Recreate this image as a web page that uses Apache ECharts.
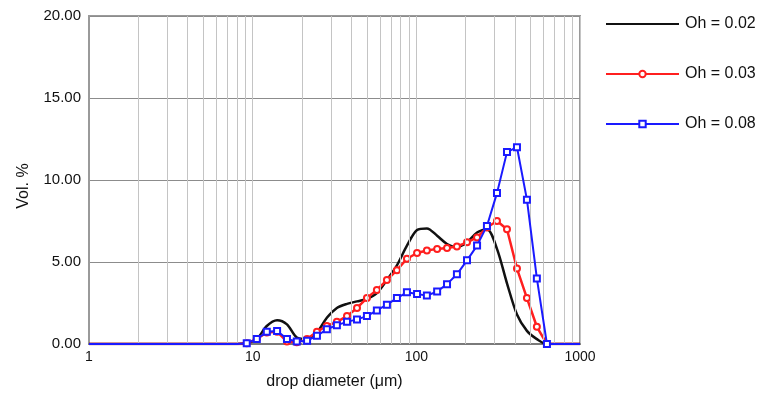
<!DOCTYPE html>
<html>
<head>
<meta charset="utf-8">
<script src="https://cdn.jsdelivr.net/npm/echarts@6/dist/echarts.min.js"></script>
<style>
  html, body { margin: 0; padding: 0; background: #fff; }
  #chart { width: 775px; height: 399px; }
</style>
</head>
<body>
<div id="chart"></div>
<script>
// drop diameter bins (um)
const diameters = [8.0, 9.2, 10.6, 12.2, 14.1, 16.2, 18.6, 21.5, 24.7, 28.4, 32.7, 37.7,
  43.4, 49.9, 57.4, 66.1, 76.1, 87.6, 101, 116, 134, 154, 177, 204, 235, 270, 311,
  358, 412, 474, 545, 628];

const oh002 = [0, 0.05, 0.3, 1.1, 1.45, 1.2, 0.4, 0.3, 0.7, 1.6, 2.2, 2.45, 2.6, 2.75,
  3.1, 3.9, 4.8, 6.0, 6.95, 7.05, 6.6, 6.1, 5.9, 6.2, 6.8, 7.0, 5.8, 3.7, 1.8, 0.8, 0.3, 0];
const oh003 = [0, 0.05, 0.3, 0.7, 0.75, 0.15, 0.1, 0.3, 0.75, 1.1, 1.35, 1.7, 2.2, 2.8,
  3.3, 3.9, 4.5, 5.2, 5.55, 5.7, 5.8, 5.85, 5.95, 6.2, 6.5, 7.1, 7.5, 7.0, 4.6, 2.8, 1.05, 0];
const oh008 = [0, 0.05, 0.3, 0.75, 0.8, 0.3, 0.15, 0.2, 0.5, 0.9, 1.15, 1.35, 1.5, 1.7,
  2.05, 2.4, 2.8, 3.15, 3.05, 2.95, 3.2, 3.65, 4.25, 5.1, 6.0, 7.2, 9.2, 11.7, 12.0, 8.8, 4.0, 0];

const seriesNames = ['Oh = 0.02', 'Oh = 0.03', 'Oh = 0.08'];
const yTicks = [0, 5, 10, 15, 20];
const xTicks = [1, 10, 100, 1000];
const minorGrid = [2, 3, 4, 5, 6, 7, 8, 9, 20, 30, 40, 50, 60, 70, 80, 90,
  200, 300, 400, 500, 600, 700, 800, 900];

function toPoints(vals, withSymbols) {
  const pts = [{ value: [xTicks[0], 0], symbol: 'none' }];
  diameters.forEach((d, i) => {
    const p = { value: [d, vals[i]] };
    if (!withSymbols || i === 0) p.symbol = 'none';
    pts.push(p);
  });
  pts.push({ value: [xTicks[xTicks.length - 1], 0], symbol: 'none' });
  return pts;
}

const chart = echarts.init(document.getElementById('chart'));
const font = 'Liberation Sans, Arial, sans-serif';

chart.setOption({
  animation: false,
  grid: {
    left: 89, right: 195, top: 16, bottom: 55,
    show: true, borderColor: '#9a9a9a', borderWidth: 2, backgroundColor: 'transparent'
  },
  legend: {
    orient: 'vertical',
    left: 600, top: 11,
    itemWidth: 73, itemHeight: 8, itemGap: 34,
    data: [
      { name: seriesNames[0], itemStyle: { opacity: 0 } },
      { name: seriesNames[1] },
      { name: seriesNames[2] }
    ],
    textStyle: { fontFamily: font, fontSize: 16, color: '#111', padding: [0, 0, 0, 1] }
  },
  xAxis: {
    type: 'log', logBase: 10, min: xTicks[0], max: xTicks[xTicks.length - 1],
    name: 'drop diameter (μm)', nameLocation: 'middle', nameGap: 30,
    nameTextStyle: { fontFamily: font, fontSize: 16, color: '#111' },
    axisLine: { show: true, lineStyle: { color: '#7a7a7a', width: 2 } },
    axisTick: { show: false },
    axisLabel: { fontFamily: font, fontSize: 14, color: '#111', margin: 6, formatter: v => String(v) },
    splitLine: { show: true, lineStyle: { color: '#c4c4c4', width: 1 } }
  },
  yAxis: {
    type: 'value', min: yTicks[0], max: yTicks[yTicks.length - 1], interval: 5,
    name: 'Vol. %', nameLocation: 'middle', nameGap: 57,
    nameTextStyle: { fontFamily: font, fontSize: 16, color: '#111', padding: [0, 12, 0, 0] },
    axisLine: { show: true, lineStyle: { color: '#9a9a9a', width: 2 } },
    axisTick: { show: false },
    axisLabel: { fontFamily: font, fontSize: 15, color: '#111', margin: 8, formatter: v => v.toFixed(2) },
    splitLine: { show: true, lineStyle: { color: '#8c8c8c', width: 1.2 } }
  },
  series: [
    {
      type: 'line', data: [], silent: true, z: 1,
      markLine: {
        silent: true, symbol: 'none', label: { show: false },
        lineStyle: { color: '#c4c4c4', width: 1, type: 'solid' },
        data: minorGrid.map(v => ({ xAxis: v }))
      }
    },
    {
      name: seriesNames[0], type: 'line', data: toPoints(oh002, false),
      symbol: 'none', smooth: 0.3, z: 3,
      lineStyle: { color: '#111111', width: 2.5 }, itemStyle: { color: '#111111' }
    },
    {
      name: seriesNames[1], type: 'line', data: toPoints(oh003, true),
      symbol: 'emptyCircle', symbolSize: 6, z: 4,
      lineStyle: { color: '#ff1f1f', width: 2.5 },
      itemStyle: { color: '#ff1f1f', borderWidth: 1.2 }
    },
    {
      name: seriesNames[2], type: 'line', data: toPoints(oh008, true),
      symbol: 'emptyRect', symbolSize: 6, z: 5,
      lineStyle: { color: '#1a1aff', width: 2 },
      itemStyle: { color: '#1a1aff', borderWidth: 1.2 }
    }
  ]
});
</script>
</body>
</html>
